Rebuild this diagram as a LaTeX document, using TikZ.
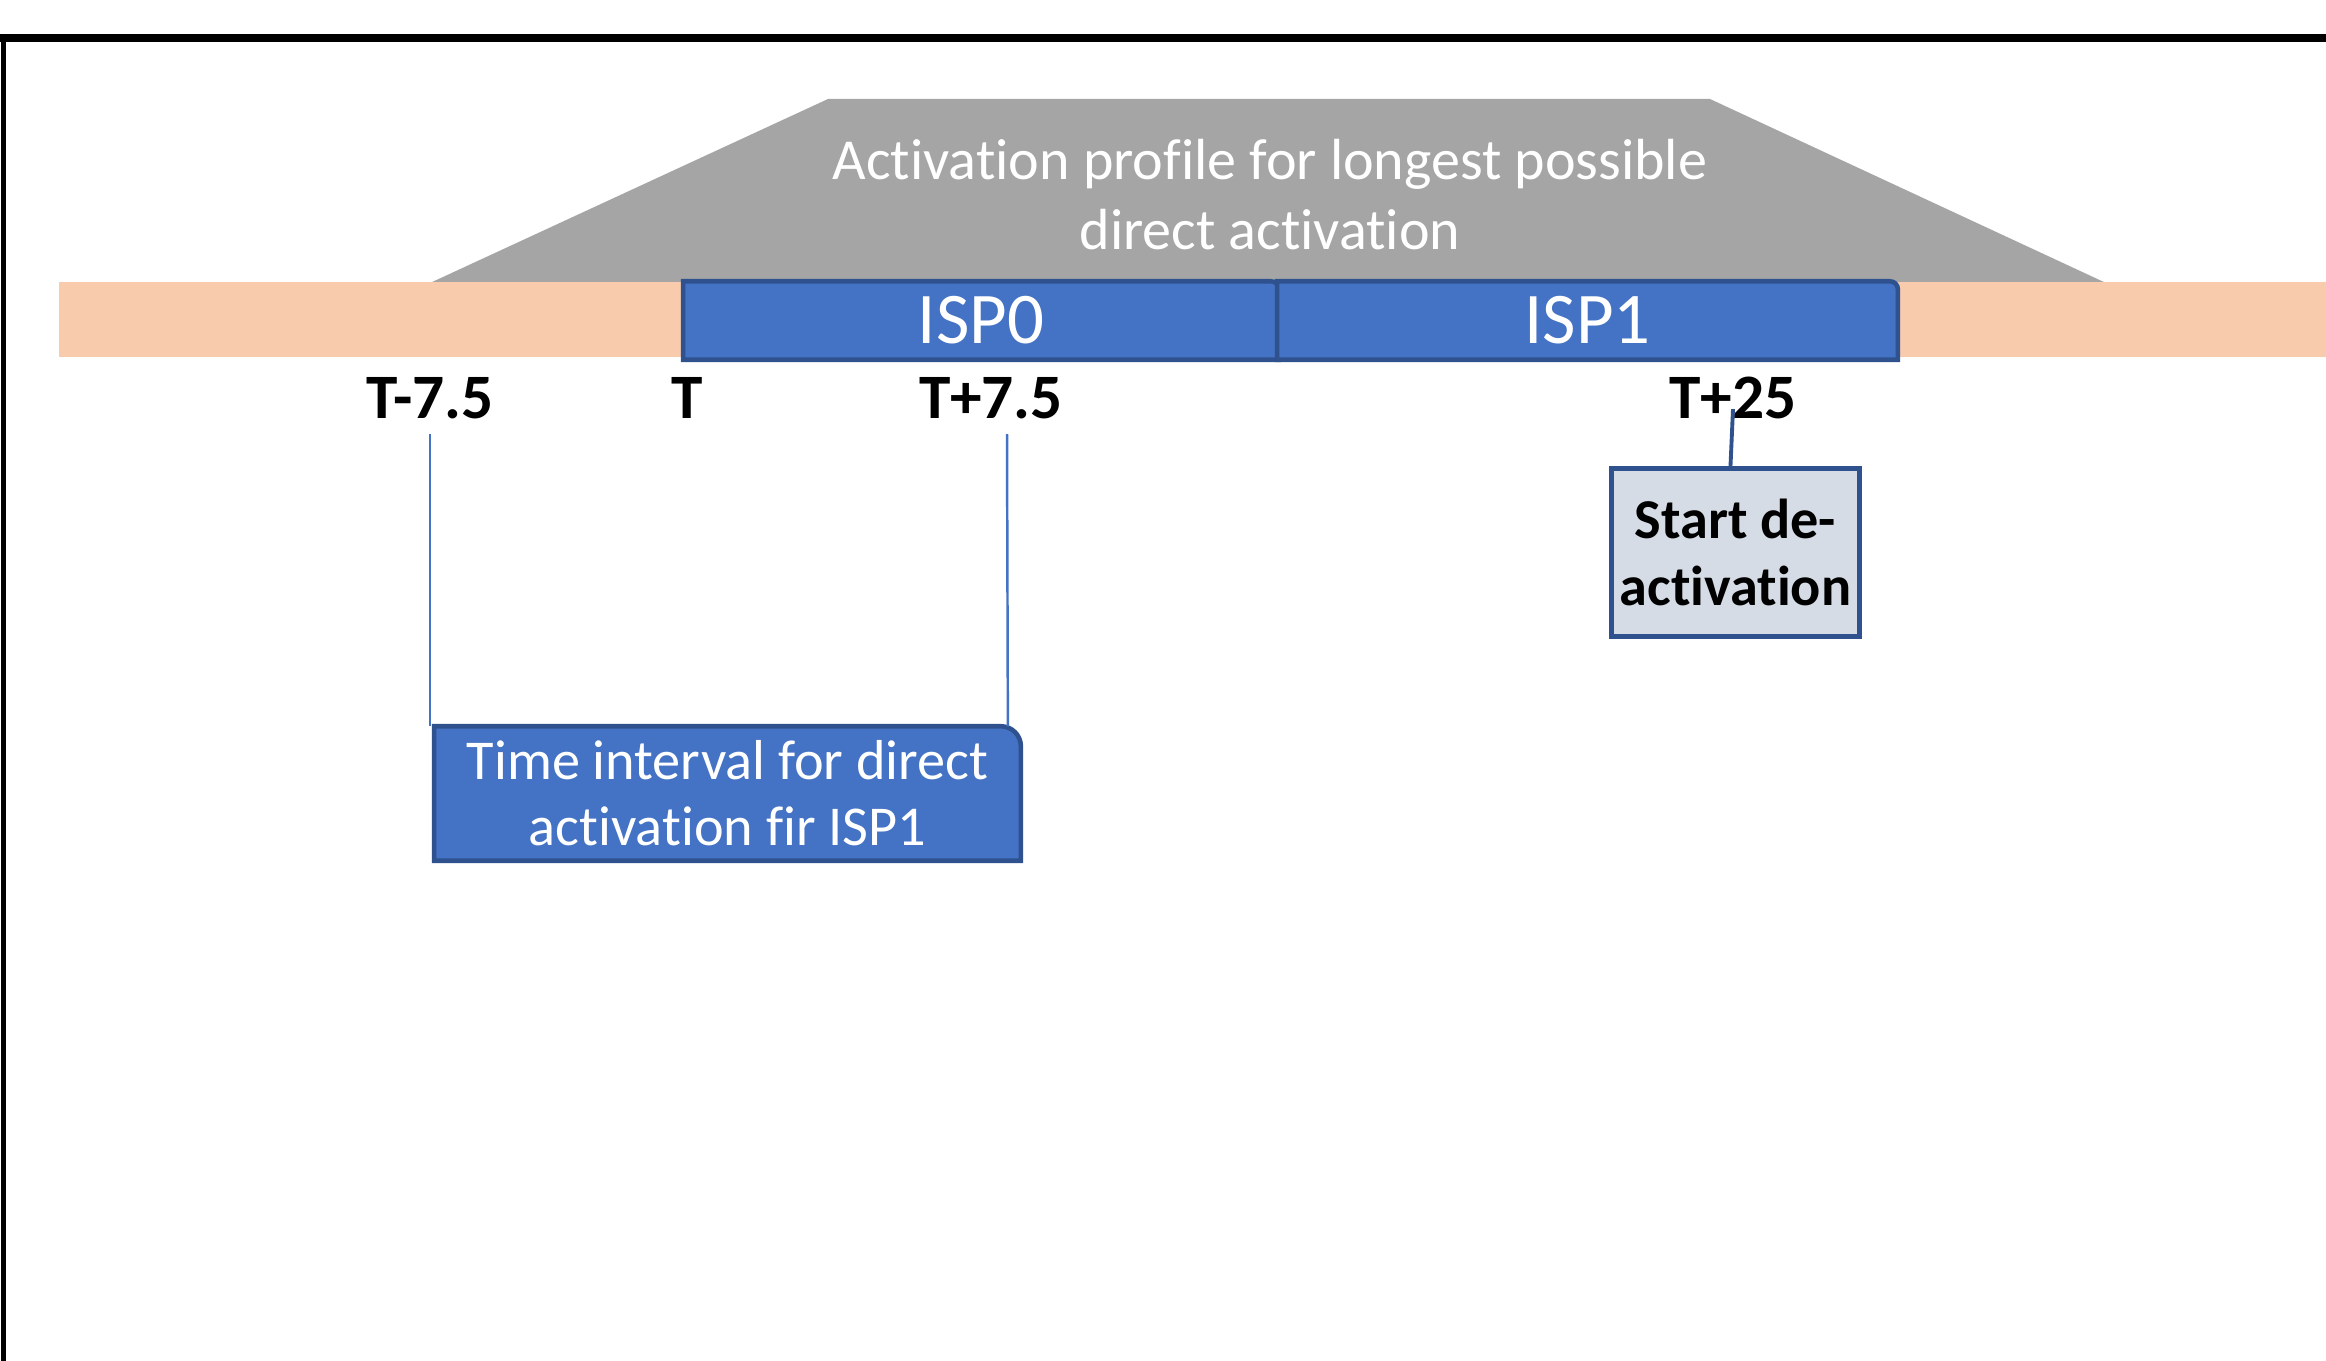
\documentclass[tikz,border=0pt]{standalone}
\usepackage{fontspec}
\setmainfont{Carlito}[RawFeature={-liga;-clig;-dlig}]
\usetikzlibrary{backgrounds}
\definecolor{peach}{HTML}{F8CBAD}
\definecolor{profilegray}{HTML}{A5A5A5}
\definecolor{ispblue}{HTML}{4472C4}
\definecolor{ispedge}{HTML}{2F528F}
\definecolor{notefill}{HTML}{D6DCE5}
\tikzset{
  isptext/.style={inner sep=0pt, text=white, font=\fontsize{20.7}{24}\selectfont},
  whitetext/.style={inner sep=0pt, text=white, align=center},
  ticklabel/.style={inner sep=0pt, anchor=base, font=\bfseries\fontsize{18}{21}\selectfont},
  notebox/.style={draw=ispedge, fill=notefill, line width=1.42pt, inner sep=0pt,
    align=center, font=\bfseries\fontsize{16}{18.8}\selectfont,
    minimum width=2.48cm, minimum height=1.68cm},
  bluebox/.style={fill=ispblue, draw=ispedge, line width=1.3pt},
  thinlink/.style={draw=ispblue, line width=0.7pt},
  thicklink/.style={draw=ispedge, line width=1.1pt}
}
\begin{document}
\begin{tikzpicture}[x=0.01cm, y=0.01cm]
\useasboundingbox (0,0) rectangle (2326,-1361);

% time axis labels
\node[ticklabel] (tm)  at (430,-419)  {T-7.5};
\node[ticklabel] (t0)  at (687,-419)  {T};
\node[ticklabel] (tp)  at (991,-419)  {T+7.5};
\node[ticklabel] (t25) at (1733,-419) {T+25};

% interval segments on the time axis
\node[isptext, minimum width=5.94cm, minimum height=0.77cm] (isp0) at (981,-320.5) {ISP0};
\node[isptext, minimum width=6.19cm, minimum height=0.77cm] (isp1) at (1587.5,-320.5) {ISP1};

% activation profile caption
\node[whitetext, font=\fontsize{16.5}{19.9}\selectfont] (act) at (1270,-195)
  {Activation profile for longest possible\\direct activation};

% interval annotation
\node[whitetext, font=\fontsize{16}{18.8}\selectfont, minimum width=5.85cm, minimum height=1.33cm]
  (ivbox) at (727.5,-793.5) {Time interval for direct\\activation fir ISP1};

% de-activation note
\node[notebox] (start) at (1735.5,-552.5) {Start de-\\activation};

\begin{scope}[on background layer]
  \fill[white] (0,0) rectangle (2326,-1361);
  % frame
  \draw[line width=2.3pt] (0,-38) -- (2326,-38);
  \draw[line width=1.4pt] (3.5,-38) -- (3.5,-1361);
  % profile trapezoid and time axis
  \fill[profilegray] (430,-283) -- (828,-99) -- (1710,-99) -- (2106,-283) -- cycle;
  \fill[peach] (59,-282) rectangle (2326,-357);
  % segment boxes with a rounded upper right corner
  \path[bluebox] (isp0.south west) -- (isp0.north west) -- ([xshift=-0.08cm]isp0.north east)
    arc[start angle=90, end angle=0, radius=0.08cm] -- (isp0.south east) -- cycle;
  \path[bluebox] (isp1.south west) -- (isp1.north west) -- ([xshift=-0.08cm]isp1.north east)
    arc[start angle=90, end angle=0, radius=0.08cm] -- (isp1.south east) -- cycle;
  \path[bluebox] (ivbox.south west) -- (ivbox.north west) -- ([xshift=-0.2cm]ivbox.north east)
    arc[start angle=90, end angle=0, radius=0.2cm] -- (ivbox.south east) -- cycle;
\end{scope}

% connectors
\draw[thinlink] ([yshift=-0.14cm]tm.south) -- (tm.south |- ivbox.north);
\draw[thinlink] ([xshift=0.16cm, yshift=-0.14cm]tp.south) -- ([xshift=-0.13cm]ivbox.north east);
\draw[thicklink] ([yshift=0.11cm]t25.south) -- ([xshift=-0.05cm]start.north);
\end{tikzpicture}
\end{document}
